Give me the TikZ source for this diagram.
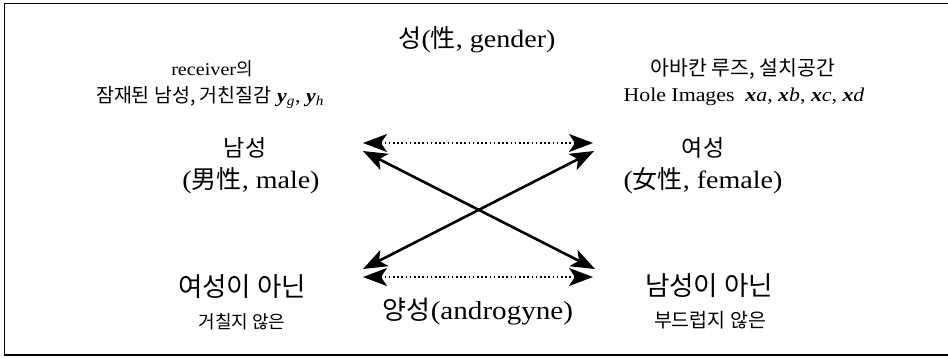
\documentclass[tikz,border=0pt]{standalone}
\usepackage{fontspec}
\setmainfont{Liberation Serif}[FakeStretch=1.12]
\newfontfamily\kr{Noto Sans CJK KR}
\usetikzlibrary{arrows.meta}
\newcommand{\fs}[1]{\fontsize{#1}{#1}\selectfont}
\begin{document}
\begin{tikzpicture}[x=1pt,y=-1pt,
  lbl/.style={inner sep=0pt,anchor=center},
  big/.style={lbl,font=\fs{23}},
  small/.style={lbl,font=\fs{19.5}},
  smallb/.style={lbl,font=\fs{18}},
  tip/.style={{Stealth[length=24pt,width=18pt,inset=6pt]}-{Stealth[length=24pt,width=18pt,inset=6pt]}},
  solidarrow/.style={tip,line width=2.6pt},
  dotarrow/.style={tip,line width=2pt,dash pattern=on 1.6pt off 2.6pt}]
\useasboundingbox (0,0) rectangle (948,357);
% frame
\draw[line width=1.6pt] (950,3.5) -- (4.5,3.5) -- (4.5,355) -- (950,355);
% texts
\node[lbl,font=\fs{25}] (title) at (477,40) {{\kr 성}({\kr 性}, gender)};
\node[small,font=\fs{18}] (recv1) at (212,69) {receiver{\kr 의}};
\node[small] (recv2) at (210,97) {{\kr 잠재된 남성, 거친질감} \textbf{\textit{y}}\textsubscript{\textit{g}}, \textbf{\textit{y}}\textsubscript{\textit{h}}};
\node[small,font=\fs{20.5}] (ab1) at (743,69) {{\kr 아바칸 루즈, 설치공간}};
\node[small] (ab2) at (744,97) {Hole Images\ \ \textbf{\textit{x}}\textit{a}, \textbf{\textit{x}}\textit{b}, \textbf{\textit{x}}\textit{c}, \textbf{\textit{x}}\textit{d}};
\node[big] (male1) at (245,148) {{\kr 남성}};
\node[big,font=\fs{25}] (male2) at (251,181) {({\kr 男性},\ male)};
\node[big] (fem1) at (703,148) {{\kr 여성}};
\node[big,font=\fs{25}] (fem2) at (703,181) {({\kr 女性}, female)};
\node[big,font=\fs{26.5}] (notf1) at (242,287) {{\kr 여성이 아닌}};
\node[smallb] (notf2) at (242,322) {{\kr 거칠지 않은}};
\node[big,font=\fs{26.5}] (notm1) at (709,286) {{\kr 남성이 아닌}};
\node[smallb,font=\fs{19.5}] (notm2) at (710,320) {{\kr 부드럽지 않은}};
\node[big,font=\fs{26}] (andro) at (478,312) {{\kr 양성}(androgyne)};
% arrow end points
\coordinate (tl) at (363,143);
\coordinate (tr) at (593,143);
\coordinate (dtl) at (363,151);
\coordinate (dtr) at (594,151);
\coordinate (dbl) at (363,269);
\coordinate (dbr) at (595,269);
\coordinate (bl) at (363,277);
\coordinate (br) at (593,277);
\draw[dotarrow] (tl) -- (tr);
\draw[dotarrow] (bl) -- (br);
\draw[solidarrow] (dtl) -- (dbr);
\draw[solidarrow] (dbl) -- (dtr);
\end{tikzpicture}
\end{document}
